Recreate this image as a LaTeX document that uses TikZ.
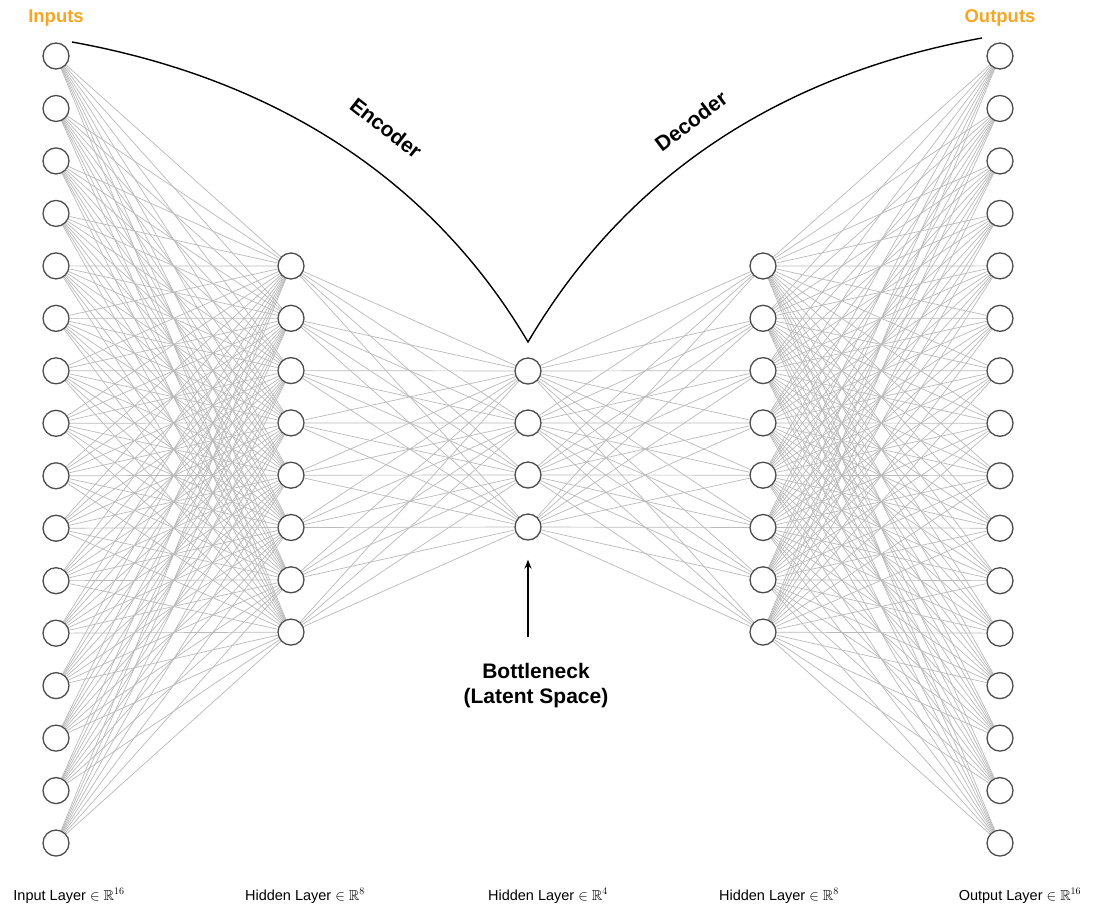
\documentclass[tikz,border=0pt]{standalone}
\usepackage{amssymb}
\usepackage{fontspec}
\setmainfont{Liberation Sans}
\usetikzlibrary{arrows.meta,backgrounds}
\definecolor{orng}{HTML}{F5A623}
\begin{document}
\begin{tikzpicture}[x=1pt,y=-1pt,
  neuron/.style={circle,draw=black!70,line width=1.3pt,fill=white,minimum size=26pt,inner sep=0pt},
  conn/.style={draw=black!27,line width=0.7pt},
  arcline/.style={draw=black,line width=1.4pt},
  ttl/.style={font=\fontsize{18.5}{22}\selectfont\bfseries,text=orng},
  lbl/.style={font=\fontsize{21}{25}\selectfont\bfseries,inner sep=1pt},
  bnlbl/.style={font=\fontsize{21}{25}\selectfont\bfseries,align=center},
  layerlbl/.style={font=\fontsize{14.5}{17}\selectfont,anchor=base},
]
\useasboundingbox (0,0) rectangle (1098,906);

% neurons
\foreach \i in {1,...,16} {
  \node[neuron] (i\i) at (56,{56+(\i-1)*52.47}) {};
  \node[neuron] (o\i) at (1000,{56+(\i-1)*52.47}) {};
}
\foreach \j in {1,...,8} {
  \node[neuron] (h\j) at (291,{266+(\j-1)*52.3}) {};
  \node[neuron] (g\j) at (763,{266+(\j-1)*52.3}) {};
}
\foreach \k in {1,...,4} {
  \node[neuron] (b\k) at (528,{371+(\k-1)*52}) {};
}

% connections
\begin{pgfonlayer}{background}
  \fill[white] (0,0) rectangle (1098,906);
  \foreach \i in {1,...,16} {
    \foreach \j in {1,...,8} {
      \draw[conn] (i\i) -- (h\j);
      \draw[conn] (o\i) -- (g\j);
    }
  }
  \foreach \j in {1,...,8} {
    \foreach \k in {1,...,4} {
      \draw[conn] (h\j) -- (b\k);
      \draw[conn] (g\j) -- (b\k);
    }
  }
\end{pgfonlayer}

% encoder / decoder arcs
\coordinate (encS) at (72,42);
\coordinate (vtx) at (528,342);
\coordinate (decE) at (982,38);
\draw[arcline] (encS) .. controls (332,89) and (462,230) .. (vtx)
               .. controls (594,230) and (722,85) .. (decE);
\node[lbl,rotate=-38] (enc) at (386,128) {Encoder};
\node[lbl,rotate=37] (dec) at (691,121) {Decoder};

% titles
\node[ttl] (inp) at (56,18) {Inputs};
\node[ttl] (outp) at (1000,18) {Outputs};

% bottleneck arrow and label
\coordinate (arrS) at (528,637);
\draw[line width=1.4pt,-{Stealth[length=9pt,width=7pt]},shorten >=19pt] (arrS) -- (b4);
\node[bnlbl] (bn) at (536,686) {Bottleneck\\(Latent Space)};

% layer labels
\node[layerlbl] (l1) at (69,900) {Input Layer \(\in\mathbb{R}^{16}\)};
\node[layerlbl] (l2) at (305,900) {Hidden Layer \(\in\mathbb{R}^{8}\)};
\node[layerlbl] (l3) at (548,900) {Hidden Layer \(\in\mathbb{R}^{4}\)};
\node[layerlbl] (l4) at (779,900) {Hidden Layer \(\in\mathbb{R}^{8}\)};
\node[layerlbl] (l5) at (1020,900) {Output Layer \(\in\mathbb{R}^{16}\)};
\end{tikzpicture}
\end{document}
